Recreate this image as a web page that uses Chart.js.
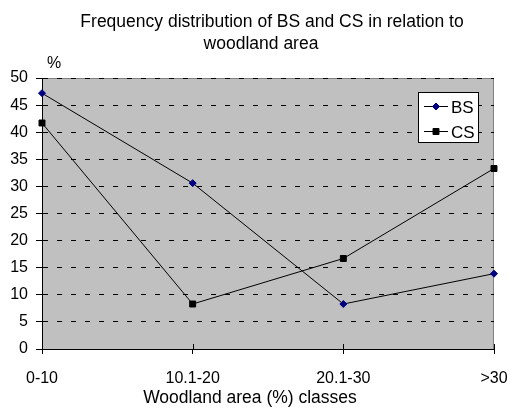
<!DOCTYPE html>
<html>
<head>
<meta charset="utf-8">
<script src="https://cdn.jsdelivr.net/npm/chart.js@4.4.0/dist/chart.umd.min.js"></script>
<style>
  html, body { margin: 0; padding: 0; background: #fff; }
  canvas { display: block; }
</style>
</head>
<body>
<canvas id="chart" width="510" height="408"></canvas>
<script>
const categories = ['0-10', '10.1-20', '20.1-30', '>30'];
const bsValues = [47.2, 30.6, 8.3, 13.9];
const csValues = [41.7, 8.3, 16.7, 33.3];
const titleLines = ['Frequency distribution of BS and CS in relation to', 'woodland area'];
const xTitle = 'Woodland area (%) classes';
const yUnit = '%';
const yMin = 0, yMax = 50, yStep = 5;

const FONT = '"Liberation Sans", Arial, sans-serif';

// grey plot area, titles, crossing x ticks and the boxed legend
const decor = {
    id: 'decor',
    beforeDraw(chart) {
        const { ctx, chartArea: a } = chart;
        ctx.save();
        ctx.fillStyle = '#fff';
        ctx.fillRect(0, 0, chart.width, chart.height);
        ctx.fillStyle = '#c0c0c0';
        ctx.fillRect(a.left, a.top, a.right - a.left, a.bottom - a.top);
        ctx.strokeStyle = '#808080';
        ctx.lineWidth = 1;
        ctx.beginPath();
        ctx.moveTo(a.left, a.top + 0.5);
        ctx.lineTo(a.right - 0.5, a.top + 0.5);
        ctx.lineTo(a.right - 0.5, a.bottom);
        ctx.stroke();
        ctx.restore();
    },
    afterDraw(chart) {
        const { ctx, chartArea: a } = chart;
        const xs = chart.scales.x;
        ctx.save();
        ctx.fillStyle = '#000';
        ctx.textAlign = 'center';
        ctx.textBaseline = 'alphabetic';
        ctx.font = '17.5px ' + FONT;
        ctx.fillText(titleLines[0], 272, 27);
        ctx.fillText(titleLines[1], 261, 49);
        ctx.font = '16px ' + FONT;
        ctx.fillText(yUnit, 54, 68);
        ctx.font = '17.5px ' + FONT;
        ctx.fillText(xTitle, 250, 403);

        // tick marks above the x axis too
        ctx.strokeStyle = '#000';
        ctx.lineWidth = 1;
        ctx.beginPath();
        for (let i = 0; i < categories.length; i++) {
            const px = Math.round(xs.getPixelForTick(i)) + 0.5;
            ctx.moveTo(px, a.bottom - 5);
            ctx.lineTo(px, a.bottom);
        }
        ctx.stroke();

        // legend
        const bx = a.right - 76, by = a.top + 14, bw = 60, bh = 50;
        ctx.fillStyle = '#fff';
        ctx.fillRect(bx, by, bw, bh);
        ctx.strokeStyle = '#000';
        ctx.strokeRect(bx + 0.5, by + 0.5, bw, bh);
        ctx.font = '17px ' + FONT;
        ctx.textAlign = 'left';
        chart.data.datasets.forEach((ds, i) => {
            const ly = by + 14.5 + i * 25;
            ctx.strokeStyle = ds.borderColor;
            ctx.lineWidth = 1;
            ctx.beginPath();
            ctx.moveTo(bx + 6, ly);
            ctx.lineTo(bx + 30, ly);
            ctx.stroke();
            ctx.fillStyle = ds.pointBackgroundColor;
            ctx.strokeStyle = ds.pointBorderColor;
            Chart.helpers.drawPoint(ctx, {
                pointStyle: ds.pointStyle,
                radius: ds.pointRadius,
                rotation: 0,
                borderWidth: 1
            }, bx + 18, ly);
            ctx.fillStyle = '#000';
            ctx.fillText(ds.label, bx + 33, ly + 6);
        });
        ctx.restore();
    }
};

new Chart(document.getElementById('chart'), {
    type: 'line',
    data: {
        labels: categories,
        datasets: [{
            label: 'BS',
            data: bsValues,
            borderColor: '#000',
            borderWidth: 1,
            pointStyle: 'rectRot',
            pointRadius: 3.5,
            pointBackgroundColor: '#000080',
            pointBorderColor: '#000080',
            pointBorderWidth: 1,
            tension: 0,
            clip: false
        }, {
            label: 'CS',
            data: csValues,
            borderColor: '#000',
            borderWidth: 1,
            pointStyle: 'rect',
            pointRadius: 4.2,
            pointBackgroundColor: '#000',
            pointBorderColor: '#000',
            pointBorderWidth: 1,
            tension: 0,
            clip: false
        }]
    },
    options: {
        responsive: false,
        animation: false,
        devicePixelRatio: 1,
        layout: {
            padding: { top: 78, right: 16, left: 0, bottom: 0 }
        },
        plugins: {
            legend: { display: false },
            title: { display: false },
            tooltip: { enabled: false }
        },
        scales: {
            x: {
                type: 'category',
                offset: false,
                grid: {
                    drawOnChartArea: false,
                    drawTicks: true,
                    tickLength: 5,
                    tickColor: '#000'
                },
                border: { color: '#000', width: 1 },
                ticks: {
                    color: '#000',
                    font: { family: FONT, size: 16 },
                    padding: 15,
                    maxRotation: 0,
                    autoSkip: false
                },
                afterFit(scale) {
                    scale.height = 59;
                    scale.paddingLeft = 0;
                    scale.paddingRight = 0;
                }
            },
            y: {
                min: yMin,
                max: yMax,
                grid: {
                    color: '#000',
                    tickColor: '#000',
                    tickLength: 6,
                    lineWidth: 1
                },
                border: { color: '#000', width: 1, dash: [5, 9] },
                ticks: {
                    stepSize: yStep,
                    color: '#000',
                    font: { family: FONT, size: 16 },
                    padding: 8
                },
                afterFit(scale) { scale.width = 42; }
            }
        }
    },
    plugins: [decor]
});
</script>
</body>
</html>
